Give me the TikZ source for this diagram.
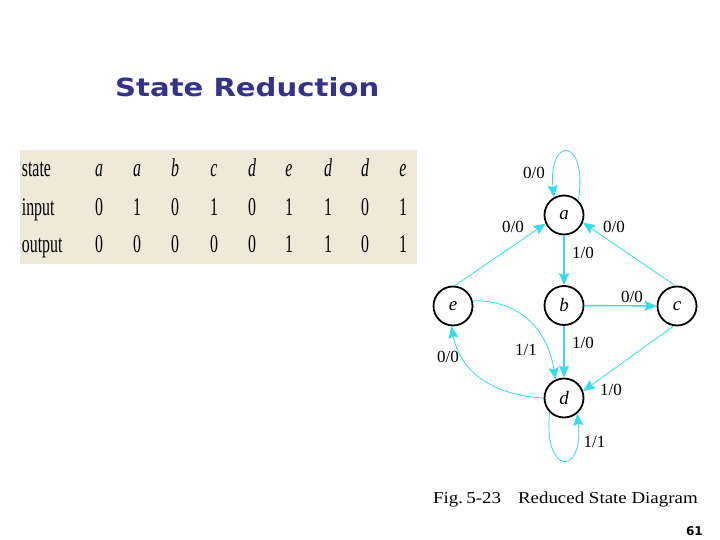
\documentclass[tikz,border=0pt]{standalone}
\usepackage{fontspec}
\setmainfont{Liberation Serif}
\newfontfamily\dejavu{DejaVu Sans}
\usetikzlibrary{arrows.meta}
\definecolor{titleblue}{RGB}{51,51,140}
\definecolor{edgecyan}{RGB}{50,222,238}
\definecolor{paper}{RGB}{240,233,218}
\begin{document}
\begin{tikzpicture}[x=1pt,y=-1pt,
  state/.style={circle,draw=black,line width=1.8pt,minimum size=39pt,inner sep=0pt,
    font=\itshape\fontsize{19}{19}\selectfont},
  edge/.style={draw=edgecyan,line width=0.8pt,-{Stealth[length=12pt,width=10pt,inset=2pt]}},
  thick edge/.style={edge,line width=1.4pt},
  lbl/.style={inner sep=0pt,font=\fontsize{17}{17}\selectfont},
  tab/.style={inner sep=0pt,anchor=base,font=\fontsize{25.6}{26}\selectfont},
  tabl/.style={inner sep=0pt,anchor=base west,font=\fontsize{25.6}{26}\selectfont}]
\useasboundingbox (0,0) rectangle (720,540);
\fill[white] (0,0) rectangle (720,540);
% title
\node[anchor=base west,inner sep=0pt,text=titleblue,
  font=\dejavu\bfseries\fontsize{25}{30}\selectfont] (title) at (115,96.7) {\scalebox{1.165}[1]{State Reduction}};
% table image
\fill[paper] (20,150) rectangle (417,264);
\node[tabl] (h1) at (21.7,176.7) {\scalebox{0.62}[1]{state}};
\node[tabl] (h2) at (21.7,215.7) {\scalebox{0.62}[1]{input}};
\node[tabl] (h3) at (21.7,252.3) {\scalebox{0.62}[1]{output}};
\foreach \x/\s/\i/\o [count=\k] in {99/a/0/0,137/a/1/0,175/b/0/0,214/c/1/0,252/d/0/0,289/e/1/1,328/d/1/1,365/d/0/0,403/e/1/1}{
  \node[tab] (s\k) at (\x,176.7) {\scalebox{0.62}[1]{\itshape\s}};
  \node[tab] (i\k) at (\x,215.7) {\scalebox{0.62}[1]{\i}};
  \node[tab] (o\k) at (\x,252.3) {\scalebox{0.62}[1]{\o}};
}
% states
\node[state] (a) at (564,215) {a};
\node[state] (b) at (564,305.5) {b};
\node[state] (c) at (677,306) {c};
\node[state] (e) at (453,306) {e};
\node[state] (d) at (564,398) {d};
% edges
\draw[edge] (a.45) .. controls (588,136) and (548,136) .. (a.120);
\draw[edge] (e.85) -- (a.205);
\draw[edge] (c.95) -- (a.-22);
\draw[thick edge] (a) -- (b);
\draw[thick edge] (b) -- (c);
\draw[thick edge] (b) -- (d);
\draw[edge] (e.15) .. controls (520,300) and (548,330) .. (d.115);
\draw[edge] (d.180) .. controls (490,395) and (460,370) .. (e.-95);
\draw[edge] (c.-100) -- (d.20);
\draw[edge] (d.225) .. controls (543,476) and (584,476) .. (d.-50);
% labels
\node[lbl] (l1) at (534,173) {0/0};
\node[lbl] (l2) at (513,227) {0/0};
\node[lbl] (l3) at (614,227) {0/0};
\node[lbl] (l4) at (583,253) {1/0};
\node[lbl] (l5) at (632,297) {0/0};
\node[lbl] (l6) at (526,350) {1/1};
\node[lbl] (l7) at (583,343) {1/0};
\node[lbl] (l8) at (448,357) {0/0};
\node[lbl] (l9) at (611,390) {1/0};
\node[lbl] (l10) at (594.5,442) {1/1};
% caption
\node[anchor=base west,inner sep=0pt,font=\fontsize{16.6}{17}\selectfont] (cap) at (433,503)
  {\scalebox{1.14}[1]{Fig.\,5-23\hspace{0.9em}Reduced State Diagram}};
\node[anchor=base east,inner sep=0pt,font=\dejavu\bfseries\fontsize{12}{14}\selectfont] (pg) at (703,535) {61};
\end{tikzpicture}
\end{document}
